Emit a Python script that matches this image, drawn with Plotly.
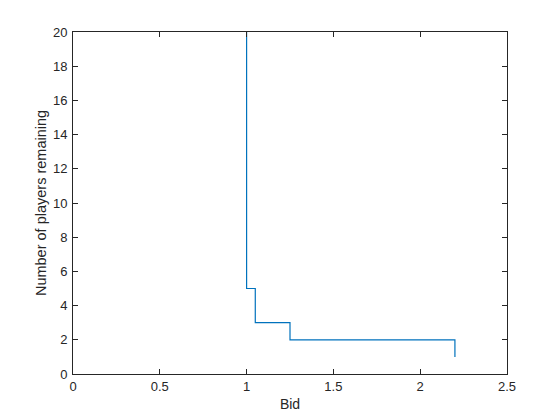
import plotly.graph_objects as go

bids = [1.0, 1.0, 1.05, 1.25, 2.2]
players_remaining = [20, 5, 3, 2, 1]

x_ticks = [0, 0.5, 1, 1.5, 2, 2.5]
y_ticks = list(range(0, 21, 2))

FONT = "Liberation Sans, Arial, sans-serif"

fig = go.Figure()
fig.add_trace(go.Scatter(
    x=bids, y=players_remaining, mode="lines", line_shape="hv",
    line=dict(color="#0072BD", width=1.2), showlegend=False,
))

axis_common = dict(
    showline=True, linecolor="#262626", linewidth=1, mirror="ticks",
    ticks="inside", ticklen=5, tickcolor="#262626", tickwidth=1,
    showgrid=False, zeroline=False, automargin=False,
    tickfont=dict(family=FONT, size=13, color="#262626"),
)

fig.update_xaxes(range=[0, 2.5], tickvals=x_ticks, ticktext=[f"{v:g}" for v in x_ticks],
                 ticklabelstandoff=0,
                 title=dict(text="Bid", standoff=6,
                            font=dict(family=FONT, size=14, color="#262626")),
                 **axis_common)
fig.update_yaxes(range=[0, 20], tickvals=y_ticks, ticklabelstandoff=2,
                 title=dict(text="Number of players remaining", standoff=2,
                            font=dict(family=FONT, size=14.5, color="#262626")),
                 **axis_common)

fig.update_layout(
    width=560, height=420,
    margin=dict(l=65, r=61, t=24, b=54),
    paper_bgcolor="white", plot_bgcolor="white",
)

fig.write_html("out.html")
